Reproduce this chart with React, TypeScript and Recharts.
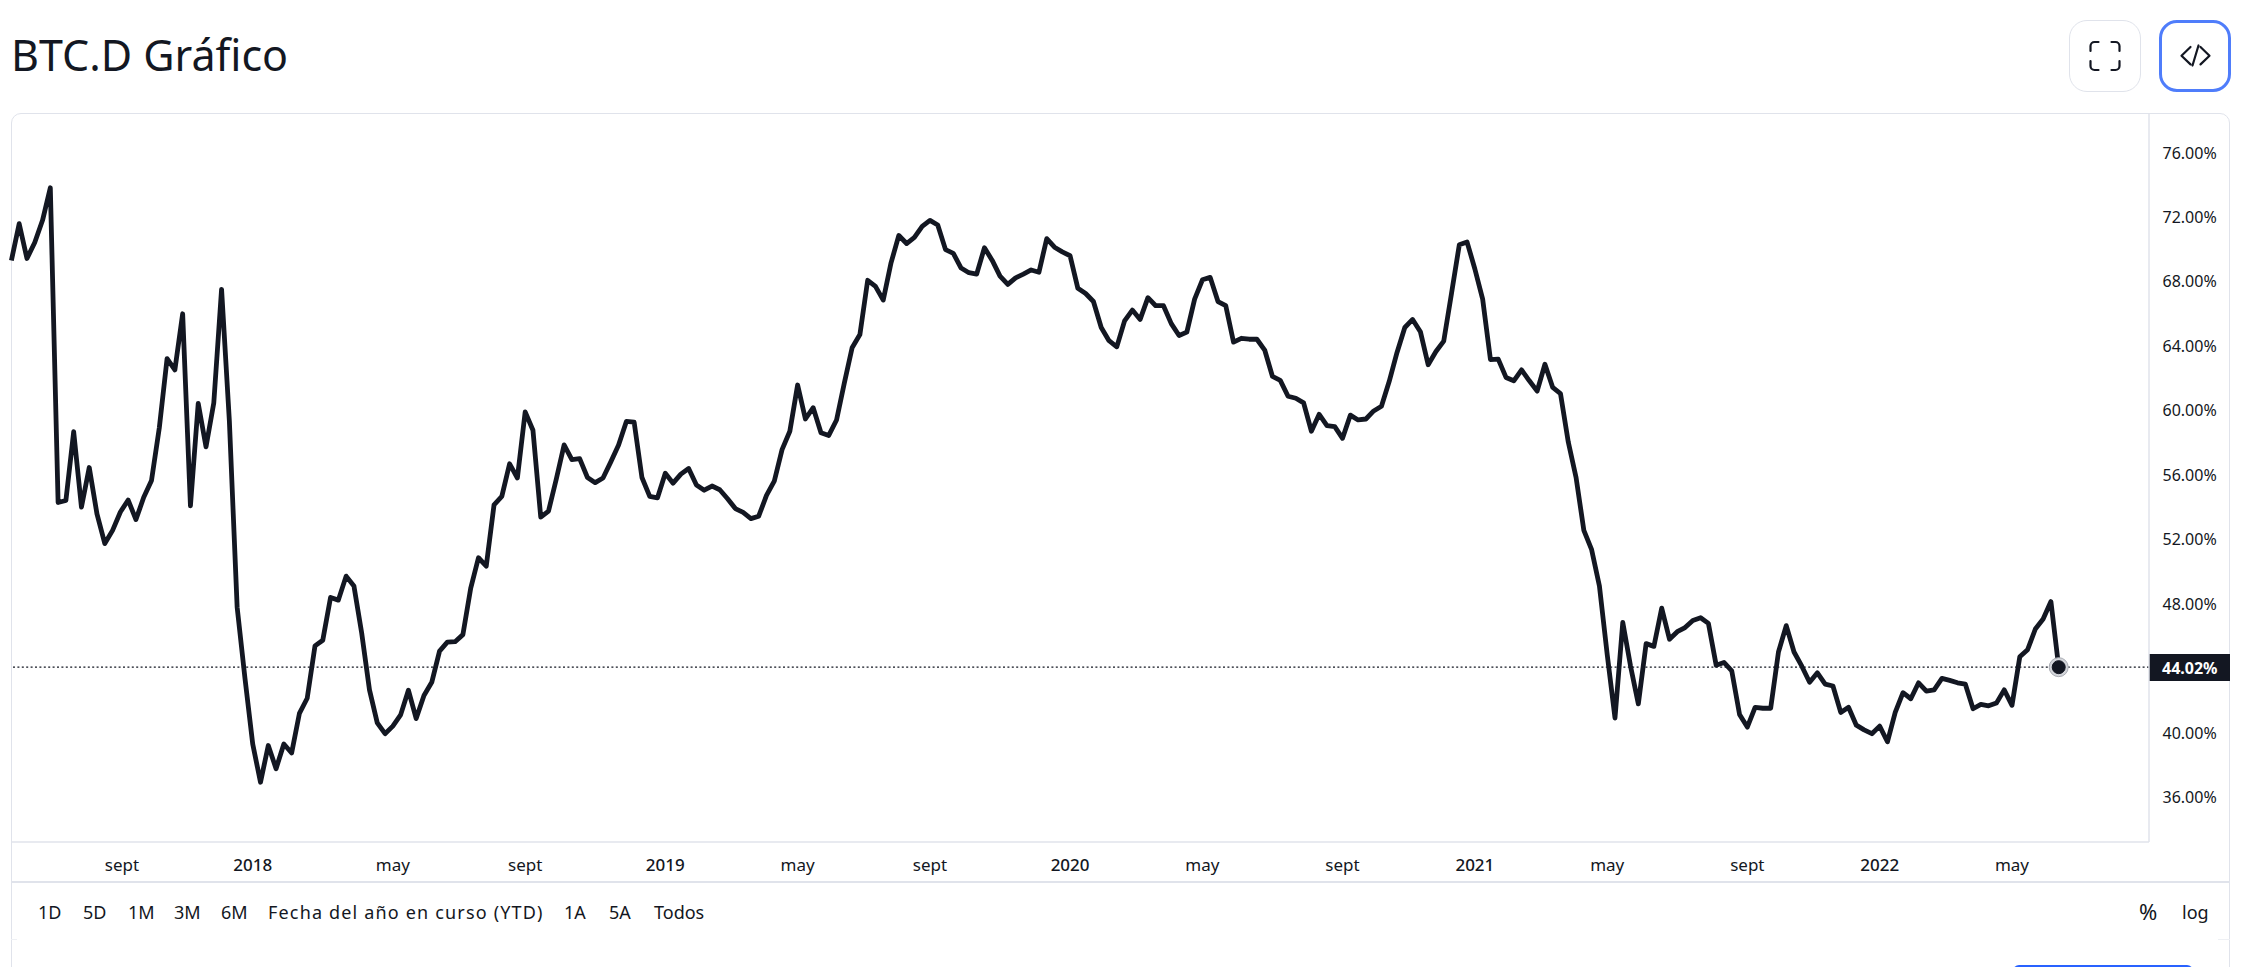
import React from "react";
import { LineChart, Line, XAxis, YAxis, ReferenceLine, ReferenceDot } from "recharts";

const INK = "#131722";
const RULE = "#e0e3eb";
const FONT = "'Noto Sans', sans-serif";

const dominance2017 = [69.26,71.54,69.38,70.37,71.75,73.77,54.24,54.36,58.63,53.95,56.41,53.51,51.69,52.51,53.65,54.39,53.18,54.56,55.61,58.87,63.17,62.47,65.95,54.03,60.39,57.69,60.42,67.47,59.30,47.74,43.35];
const dominance2018 = [39.25,36.88,39.16,37.72,39.25,38.69,41.15,42.09,45.34,45.69,48.35,48.18,49.67,49.06,46.13,42.61,40.56,39.89,40.36,41.06,42.59,40.83,42.26,43.08,45.02,45.57,45.60,46.04,48.91,50.81,50.29,54.09,54.62,56.64,55.76,59.86,58.72,53.33,53.71,55.70,57.81,56.90,56.96,55.79,55.47,55.76,56.76,57.81,59.27,59.22,55.79,54.62];
const dominance2019 = [54.53,56.05,55.44,56.00,56.35,55.32,55.00,55.26,55.03,54.47,53.86,53.62,53.24,53.39,54.68,55.56,57.52,58.66,61.53,59.42,60.12,58.57,58.40,59.36,61.65,63.84,64.66,68.03,67.65,66.80,69.11,70.81,70.31,70.69,71.37,71.75,71.46,69.93,69.70,68.79,68.50,68.41,70.05,69.26,68.29,67.77,68.18,68.41,68.67,68.53,70.61,70.08];
const dominance2020 = [69.79,69.55,67.53,67.21,66.71,65.10,64.28,63.90,65.51,66.18,65.60,66.95,66.45,66.45,65.34,64.60,64.81,66.86,68.06,68.21,66.71,66.45,64.19,64.43,64.37,64.37,63.70,62.06,61.82,60.83,60.71,60.42,58.66,59.71,59.01,58.95,58.22,59.66,59.36,59.42,59.92,60.21,61.76,63.55,65.10,65.60,64.84,62.79,63.61,64.25,67.21,70.23];
const dominance2021 = [70.40,68.73,66.86,63.11,63.14,62.00,61.79,62.47,61.79,61.15,62.82,61.38,61.00,57.99,55.79,52.51,51.31,49.06,44.81,40.86,46.80,44.08,41.74,45.48,45.31,47.68,45.75,46.22,46.48,46.92,47.09,46.74,44.14,44.31,43.79,41.09,40.30,41.53,41.47,41.47,44.96,46.60,44.96,44.08,43.08,43.67,42.97,42.85,41.21,41.53,40.42,40.13,39.89];
const dominance2022 = [40.36,39.39,41.21,42.44,42.06,43.05,42.53,42.61,43.32,43.20,43.05,42.97,41.44,41.71,41.62,41.79,42.61,41.65,44.66,45.10,46.39,47.01,48.09,44.02];

const dominance = [...dominance2017, ...dominance2018, ...dominance2019, ...dominance2020, ...dominance2021, ...dominance2022];
const rows = dominance.map((value, week) => ({ week, value }));

const yTicks = [36, 40, 48, 52, 56, 60, 64, 68, 72, 76];
const xTickWeeks = [14.2, 31, 49, 66, 84, 101, 118, 136, 153, 171, 188, 205, 223, 240, 257];
const xTickLabels = ["sept", "2018", "may", "sept", "2019", "may", "sept", "2020", "may", "sept", "2021", "may", "sept", "2022", "may"];
const lastValue = 44.02;
const lastWeek = dominance.length - 1;
const rangeLabels = ["1D", "5D", "1M", "3M", "6M", "Fecha del año en curso (YTD)", "1A", "5A", "Todos"];

const rangeLefts = [38, 83, 128, 174, 221, 268, 564, 609, 654];

const XTick = (props: any) => {
  const i = xTickWeeks.indexOf(props.payload.value);
  const label = xTickLabels[i];
  const isYear = /^\d+$/.test(label);
  return (
    <text x={props.x} y={865} dy="0.35em" textAnchor="middle" fontFamily={FONT} fontSize={isYear ? 17 : 17} fontWeight={isYear ? 500 : 400} fill={INK}>
      {label}
    </text>
  );
};

const LastTag = (props: any) => {
  const vb = props.viewBox;
  const x = vb.x + vb.width;
  return (
    <g>
      <rect x={x} y={654} width={81} height={27} fill={INK} />
      <text x={x + 13} y={668} dy="0.35em" fontFamily={FONT} fontSize={16} fontWeight={700} fill="#fff">44.02%</text>
    </g>
  );
};

const abs = (s: React.CSSProperties): React.CSSProperties => ({ position: "absolute", boxSizing: "border-box", ...s });

export default function App() {
  return (
    <div style={abs({ left: 0, top: 0, width: 2243, height: 967, overflow: "hidden", background: "#fff", fontFamily: FONT, color: INK })}>
      <div style={abs({ left: 11, top: 113, width: 2219, height: 900, border: `1.5px solid ${RULE}`, borderRadius: 10 })} />
      <div style={abs({ left: 11, top: 881, width: 2219, height: 1.5, background: RULE })} />
      <div style={abs({ left: 11, top: 939, width: 6, height: 1, background: "#eef0f4" })} />
      <div style={abs({ left: 2218, top: 939, width: 12, height: 1, background: "#eef0f4" })} />

      <div style={abs({ left: 11, top: 26, height: 58, lineHeight: "58px", fontSize: 43, whiteSpace: "nowrap" })}>BTC.D Gráfico</div>

      <div style={abs({ left: 2069, top: 20, width: 72, height: 72, border: `1.5px solid ${RULE}`, borderRadius: 18, background: "#fff" })} />
      <div style={abs({ left: 2159, top: 20, width: 72, height: 72, border: "3px solid #4f7dfb", borderRadius: 18, background: "#fff" })} />
      <svg style={abs({ left: 2069, top: 20 })} width={162} height={72} fill="none" stroke={INK} strokeWidth={2.2} strokeLinecap="round" strokeLinejoin="round">
        <path d="M21.5 31v-5a4 4 0 0 1 4-4h4M42.5 22h4a4 4 0 0 1 4 4v5M50.5 41v5a4 4 0 0 1-4 4h-4M29.5 50h-4a4 4 0 0 1-4-4v-5" />
        <path d="M121.5 27l-9 8.7 9 8.7M131.5 27l9 8.7-9 8.7M129.5 25.5l-6 20" />
      </svg>

      <LineChart
        width={2243}
        height={967}
        data={rows}
        margin={{ top: 113, left: 11.4, right: 13, bottom: 86 }}
        style={{ position: "absolute", left: 0, top: 0 }}
      >
        <XAxis
          dataKey="week"
          type="number"
          domain={[0, 274.6]}
          ticks={xTickWeeks}
          interval={0}
          height={39}
          tickLine={false}
          axisLine={{ stroke: RULE, strokeWidth: 1.5 }}
          tick={<XTick />}
        />
        <YAxis
          orientation="right"
          type="number"
          domain={[33.17, 78.41]}
          ticks={yTicks}
          interval={0}
          width={81}
          tickSize={0}
          tickMargin={13.5}
          tickLine={false}
          axisLine={{ stroke: RULE, strokeWidth: 1.5 }}
          tick={{ fontFamily: FONT, fontSize: 16, fill: INK, dy: 1 }}
          tickFormatter={(v: number) => `${v.toFixed(2)}%`}
        />
        <ReferenceLine y={lastValue} stroke={INK} strokeWidth={1.3} strokeDasharray="2 2.4" label={<LastTag />} />
        <Line type="linear" dataKey="value" stroke={INK} strokeWidth={4.8} dot={false} isAnimationActive={false} strokeLinejoin="round" />
        <ReferenceDot x={lastWeek} y={lastValue} r={9.5} fill="#d3d5da" stroke="#a9acb3" strokeWidth={1} />
        <ReferenceDot x={lastWeek} y={lastValue} r={6.5} fill={INK} stroke={INK} />
      </LineChart>

      {rangeLabels.map((t, i) => (
        <div key={t} style={abs({ left: rangeLefts[i], top: 898, height: 28, lineHeight: "28px", fontSize: 18, whiteSpace: "nowrap", letterSpacing: t.length > 10 ? 1.17 : 0 })}>{t}</div>
      ))}
      <div style={abs({ left: 2139, top: 897, height: 28, lineHeight: "28px", fontSize: 22, whiteSpace: "nowrap" })}>%</div>
      <div style={abs({ left: 2182, top: 898, height: 28, lineHeight: "28px", fontSize: 18, whiteSpace: "nowrap" })}>log</div>
      <div style={abs({ left: 2013, top: 965, width: 180, height: 10, background: "#2962ff", borderRadius: "6px 6px 0 0" })} />
    </div>
  );
}
